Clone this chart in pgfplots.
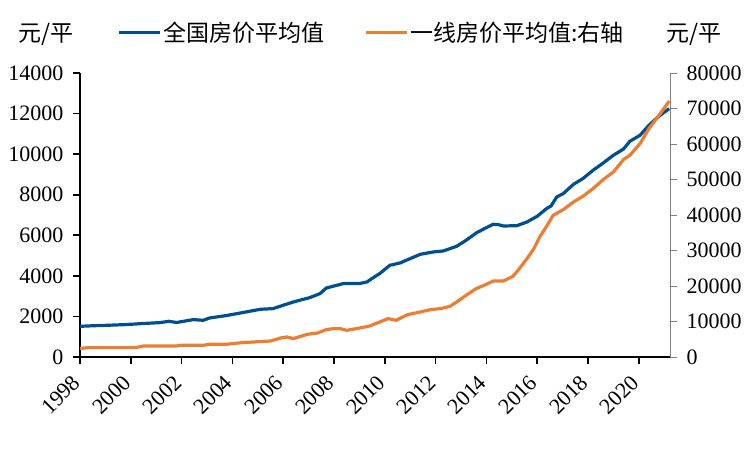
\documentclass[border=0pt]{standalone}
\usepackage{fontspec}
\setmainfont{Liberation Serif}
\newfontfamily\cjk{Noto Sans CJK SC}
\usepackage{pgfplots}
\pgfplotsset{compat=1.18}
\usepackage{pgfplotstable}

\definecolor{natblue}{RGB}{0,79,145}
\definecolor{tierorange}{RGB}{237,125,49}

% national average, yuan / m2 (left axis)
\pgfplotstableread{
year price
1998.00 1513
1998.50 1540
1999.00 1560
1999.80 1597
2000.40 1645
2001.15 1695
2001.50 1760
2001.80 1700
2002.46 1843
2002.85 1810
2003.10 1923
2003.75 2041
2004.40 2189
2005.10 2352
2005.60 2385
2006.00 2550
2006.40 2712
2007.05 2928
2007.45 3125
2007.70 3402
2008.37 3619
2009.00 3619
2009.30 3700
2009.55 3913
2009.80 4112
2010.20 4521
2010.60 4635
2011.00 4851
2011.40 5063
2011.90 5177
2012.30 5226
2012.83 5458
2013.20 5753
2013.60 6113
2014.00 6379
2014.27 6542
2014.47 6526
2014.67 6458
2015.20 6474
2015.60 6656
2016.00 6937
2016.37 7316
2016.55 7450
2016.77 7888
2017.03 8056
2017.43 8514
2017.80 8795
2018.20 9204
2018.60 9564
2019.00 9944
2019.40 10254
2019.65 10634
2020.05 10930
2020.40 11423
2020.80 11880
2021.20 12246
}\national

% first-tier cities average, yuan / m2 (right axis)
\pgfplotstableread{
year price
1998.00 2366
1998.30 2648
2000.20 2648
2000.50 3099
2001.80 3099
2001.95 3296
2002.85 3296
2003.10 3578
2003.75 3578
2004.40 4056
2005.50 4507
2005.90 5352
2006.15 5634
2006.40 5183
2006.95 6395
2007.35 6761
2007.70 7718
2008.00 8000
2008.24 8000
2008.50 7521
2009.02 8169
2009.40 8733
2009.80 9860
2010.13 10817
2010.45 10338
2010.90 11944
2011.40 12677
2011.80 13352
2012.20 13634
2012.57 14282
2012.83 15494
2013.20 17381
2013.60 19268
2014.00 20480
2014.27 21409
2014.67 21409
2015.05 22733
2015.30 24902
2015.60 27720
2015.85 30255
2016.10 33804
2016.37 36819
2016.63 39918
2017.03 41524
2017.43 43665
2017.80 45270
2018.20 47439
2018.60 49974
2019.00 52115
2019.40 55607
2019.65 56819
2020.05 60114
2020.40 64340
2020.80 68087
2021.20 72115
}\tierone

\pgfplotsset{
  base/.style={
    scale only axis, width=590pt, height=284pt,
    at={(0,0)}, anchor=south west,
    xmin=1998, xmax=2021.23,
    scaled ticks=false,
    tick align=outside,
    major tick length=7pt,
    ticklabel style={font=\fontsize{22}{22}\selectfont},
    /pgf/number format/1000 sep={},
    /pgf/number format/assume math mode=true,
    every axis y label/.style={},
  }
}

\begin{document}
\begin{tikzpicture}
\begin{axis}[base,
  axis x line*=bottom, axis y line*=left,
  axis line style={black, line width=1.6pt},
  tick style={black, line width=1.6pt},
  ymin=0, ymax=14000, ytick={0,2000,...,14000},
  xtick={1998,2000,...,2020},
  x tick label style={xshift=-9pt, yshift=-5pt, rotate=45, anchor=north east},
  y tick label style={xshift=-6pt},
  ylabel={\cjk\fontsize{23}{23}\selectfont 元/平},
  ylabel style={at={(axis description cs:-0.0576,1.137)}, anchor=center, rotate=0},
]
\addplot[natblue, line width=3.2pt] table[x=year, y=price] {\national};
\end{axis}
\begin{axis}[base,
  axis x line=none, axis y line*=right,
  axis line style={gray, line width=0.9pt},
  ytick style={gray, line width=0.9pt},
  ymin=0, ymax=80000, ytick={0,10000,...,80000},
  y tick label style={xshift=6pt},
  ylabel={\cjk\fontsize{23}{23}\selectfont 元/平},
  ylabel style={at={(axis description cs:1.0407,1.137)}, anchor=center, rotate=0},
  legend columns=2,
  legend style={at={(axis description cs:0.0627,1.144)}, anchor=west,
    draw=none, fill=none, inner sep=0pt,
    font=\cjk\fontsize{23}{23}\selectfont,
    /tikz/every even column/.append style={column sep=38pt}},
  legend image code/.code={\draw[#1] (0pt,0pt) -- (41pt,0pt);},
]
\addlegendimage{natblue, line width=3.2pt}
\addlegendentry{全国房价平均值}
\addplot[tierorange, line width=3.2pt] table[x=year, y=price] {\tierone};
\addlegendentry{一线房价平均值:右轴}
\end{axis}
\pgfresetboundingbox
\path (-80pt,-93pt) rectangle (670pt,357pt);
\end{tikzpicture}
\end{document}
